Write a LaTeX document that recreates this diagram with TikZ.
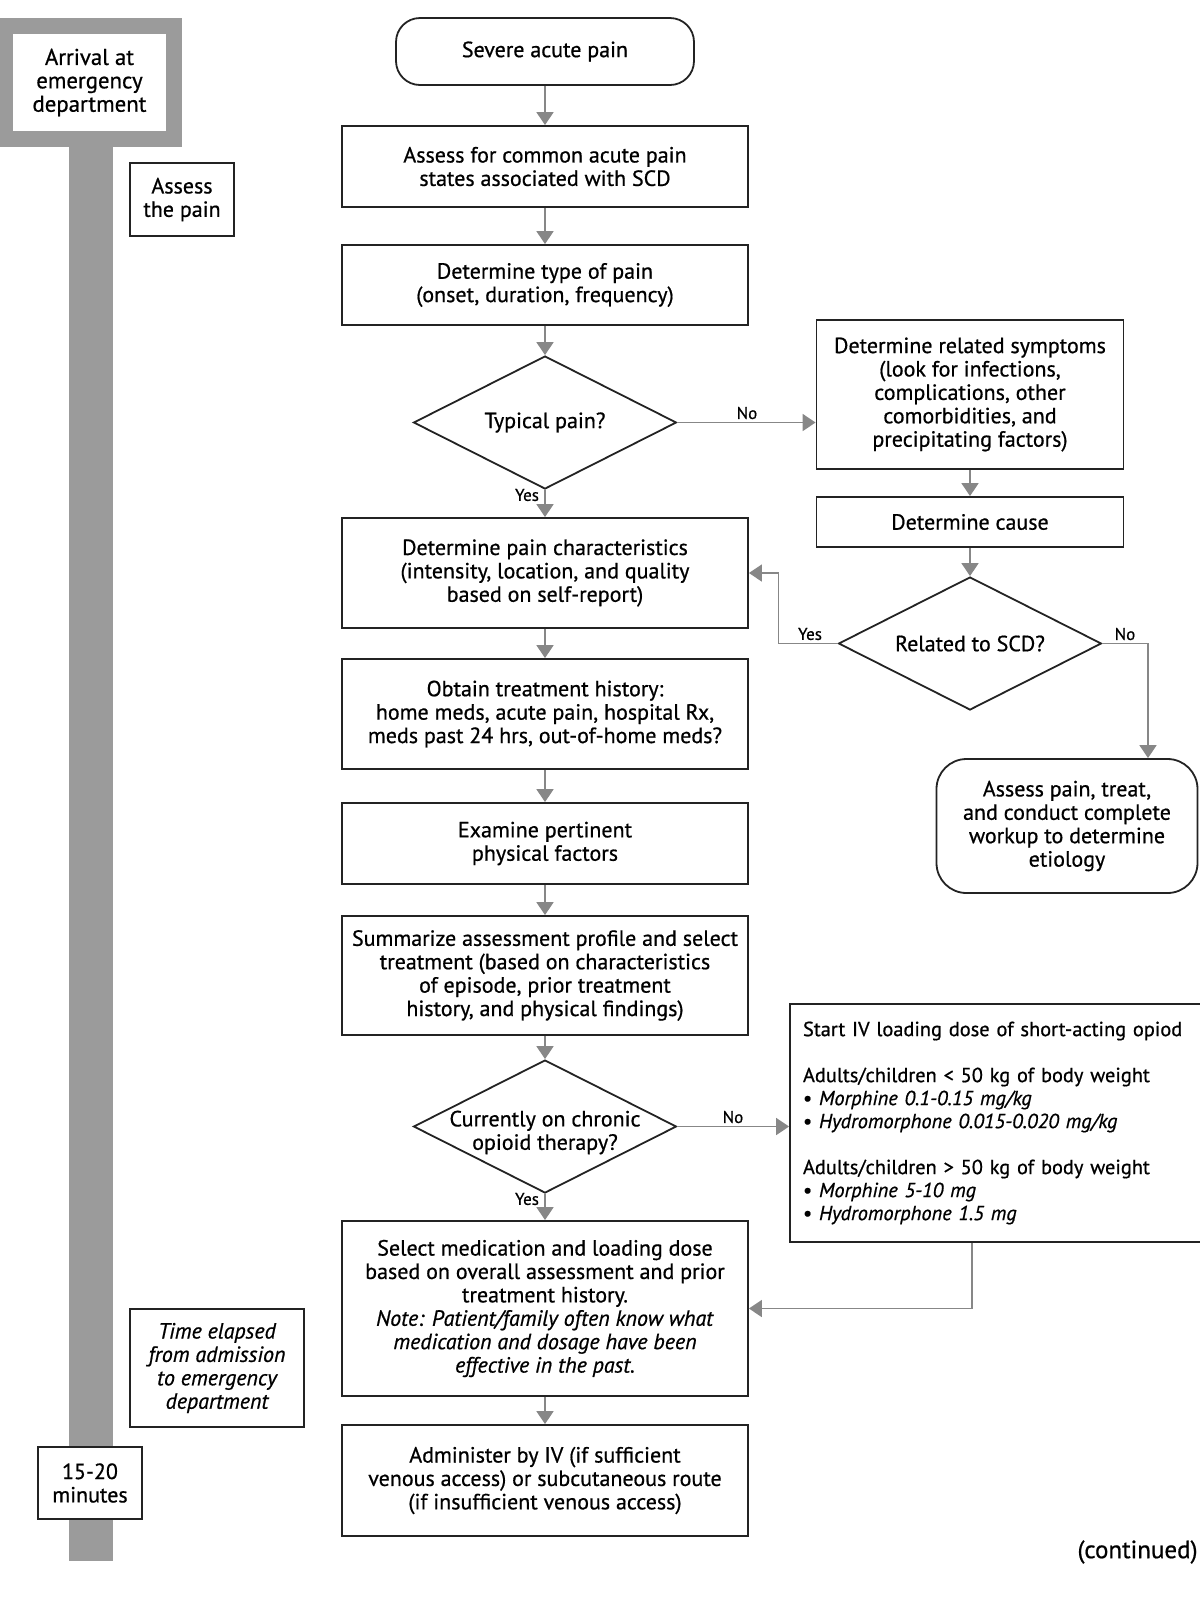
\documentclass[tikz,border=0pt]{standalone}
\usepackage{fontspec}
\setmainfont{PT Sans}[FakeBold=0.7]
\usetikzlibrary{arrows.meta,shapes.geometric,calc}
\definecolor{linegray}{RGB}{135,135,135}
\definecolor{bargray}{RGB}{155,155,155}
\definecolor{boxline}{RGB}{35,35,35}
\newcommand{\txt}{\fontsize{11}{11.7}\selectfont}

\begin{document}
\begin{tikzpicture}[x=0.5pt,y=-0.5pt,
  every node/.style={font=\txt},
  box/.style={draw=boxline,line width=0.9pt,align=center,inner sep=2pt,minimum width=203pt},
  term/.style={box,rounded corners=12pt},
  dec/.style={draw=boxline,line width=0.9pt,diamond,shape aspect=2,inner sep=-3pt,
    minimum width=131.5pt,minimum height=66.5pt,align=center},
  arr/.style={draw=linegray,line width=0.8pt,-{Triangle[length=6.5pt,width=8.5pt]}},
  yn/.style={font=\fontsize{8.5}{10}\selectfont,inner sep=0pt}]
  \useasboundingbox (0,0) rectangle (1200,1597);
  % time line on the left
  \fill[bargray] (0,18) rectangle (182,147);
  \fill[bargray] (69,147) rectangle (113,1561);
  \node[fill=white,minimum width=76.5pt,minimum height=48.5pt,align=center,font=\fontsize{11.4}{11.7}\selectfont] (arrival) at (89.5,82.5) {Arrival at\\emergency\\department};
  \node[box,minimum width=52pt,minimum height=36.5pt] (assesspain) at (182,199.5) {Assess\\the pain};
  \node[box,minimum width=87pt,minimum height=59pt,font={\txt\itshape}] (elapsed) at (217,1368) {Time elapsed\\from admission\\to emergency\\department};
  \node[box,fill=white,minimum width=52pt,minimum height=36pt] (minutes) at (90,1483) {15-20\\minutes};
  % main column
  \node[term,minimum width=149pt,minimum height=33.5pt] (pain) at (545,51.5) {Severe acute pain};
  \node[box,minimum height=40.5pt] (common) at (545,166.5) {Assess for common acute pain\\states associated with SCD};
  \node[box,minimum height=40pt] (type) at (545,285) {Determine type of pain\\(onset, duration, frequency)};
  \node[dec] (typical) at (545,422.5) {Typical pain?};
  \node[box,minimum height=55pt] (charac) at (545,573) {Determine pain characteristics\\(intensity, location, and quality\\based on self-report)};
  \node[box,minimum height=55pt] (history) at (545,714) {Obtain treatment history:\\home meds, acute pain, hospital Rx,\\meds past 24 hrs, out-of-home meds?};
  \node[box,minimum height=40.5pt] (examine) at (545,843.5) {Examine pertinent\\physical factors};
  \node[box,minimum height=59.5pt] (summary) at (545,975.5) {Summarize assessment profile and select\\treatment (based on characteristics\\of episode, prior treatment\\history, and physical findings)};
  \node[dec] (chronic) at (545,1126.5) {};
  \node[align=center,inner sep=0pt] (chronictext) at ($(chronic)+(0,6)$) {Currently on chronic\\opioid therapy?};
  \node[box,minimum height=87.5pt] (select) at (545,1308.5) {Select medication and loading dose\\based on overall assessment and prior\\treatment history.\\\textit{Note: Patient/family often know what}\\\textit{medication and dosage have been}\\\textit{effective in the past.}};
  \node[box,minimum height=55.5pt] (admin) at (545,1480.5) {Administer by IV (if sufficient\\venous access) or subcutaneous route\\(if insufficient venous access)};
  % right column
  \node[box,minimum width=153.5pt,minimum height=74.5pt] (symptoms) at (970,394.5) {Determine related symptoms\\(look for infections,\\complications, other\\comorbidities, and\\precipitating factors)};
  \node[box,minimum width=153.5pt,minimum height=25pt] (cause) at (970,522) {Determine cause};
  \node[dec] (related) at (970,643.5) {Related to SCD?};
  \node[term,rounded corners=15pt,minimum width=130.5pt,minimum height=67pt] (workup) at (1067,826) {Assess pain, treat,\\and conduct complete\\workup to determine\\etiology};
  \node[box,align=left,text width=205pt,inner xsep=6.5pt,minimum height=119pt,font=\fontsize{10.2}{11.5}\selectfont] (iv) at (1008,1123) {Start IV loading dose of short-acting opiod\\[11.5pt]
    Adults/children < 50 kg of body weight\\
    • \textit{Morphine 0.1-0.15 mg/kg}\\
    • \textit{Hydromorphone 0.015-0.020 mg/kg}\\[11.5pt]
    Adults/children > 50 kg of body weight\\
    • \textit{Morphine 5-10 mg}\\
    • \textit{Hydromorphone 1.5 mg}};
  \node[anchor=east,inner sep=0pt,font=\fontsize{12.5}{14}\selectfont] (continued) at (1198,1552) {(continued)};
  % connectors
  \draw[arr] (pain) -- (common);
  \draw[arr] (common) -- (type);
  \draw[arr] (type) -- (typical);
  \draw[arr] (typical) -- (charac);
  \draw[arr] (charac) -- (history);
  \draw[arr] (history) -- (examine);
  \draw[arr] (examine) -- (summary);
  \draw[arr] (summary) -- (chronic);
  \draw[arr] (chronic) -- (select);
  \draw[arr] (select) -- (admin);
  \draw[arr] (typical.east) -- (typical.east -| symptoms.west);
  \draw[arr] (symptoms) -- (cause);
  \draw[arr] (cause) -- (related);
  \draw[arr] (related.west) -- ++(-59,0) |- (charac.east);
  \draw[arr] (related.east) -| ($(workup.north)+(81,0)$);
  \draw[arr] (chronic.east) -- (chronic.east -| iv.west);
  \draw[arr] ($(iv.south)+(-36,0)$) |- (select.east);
  % yes / no labels
  \node[yn] (no1) at (747,413) {No};
  \node[yn] (yes1) at (527,495) {Yes};
  \node[yn] (yes2) at (810,634) {Yes};
  \node[yn] (no2) at (1125,634) {No};
  \node[yn] (no3) at (733,1117) {No};
  \node[yn] (yes3) at (527,1199) {Yes};
\end{tikzpicture}
\end{document}
